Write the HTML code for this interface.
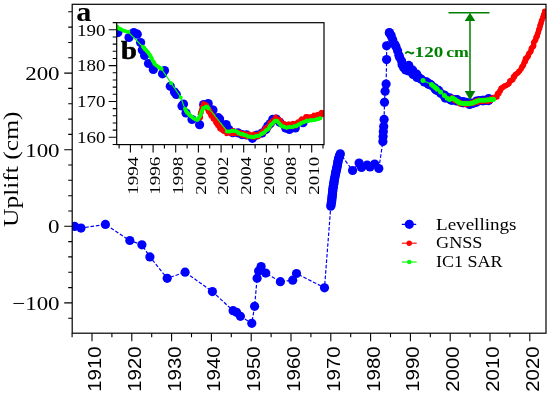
<!DOCTYPE html>
<html><head><meta charset="utf-8"><style>
html,body{margin:0;padding:0;background:#fff;}
body{width:550px;height:397px;overflow:hidden;font-family:"Liberation Serif",serif;}
svg{display:block;will-change:transform;}
</style></head><body>
<svg width="550" height="397" viewBox="0 0 550 397"><defs><clipPath id="cm"><rect x="72.2" y="4.3" width="473.8" height="328.9"/></clipPath><clipPath id="ci"><rect x="116.7" y="22.7" width="207.3" height="121.89999999999999"/></clipPath></defs><rect width="550" height="397" fill="#fff"/><g clip-path="url(#cm)"><polyline points="74.6,226.4 81.0,228.1 105.4,224.4 129.8,240.5 141.9,244.8 149.9,256.9 167.2,278.3 185.1,272.2 212.4,291.6 233.1,310.7 236.6,312.3 240.4,316.3 251.8,323.3 254.6,306.3 257.1,278.2 258.6,271.1 261.1,266.6 265.7,273.1 280.4,281.7 292.7,280.2 296.5,273.5 324.5,287.8 330.8,206.2 331.1,204.6 331.3,203.1 331.6,201.6 331.8,200.0 331.9,198.6 332.1,197.1 332.2,195.7 332.4,194.3 332.5,192.9 332.7,191.4 332.8,190.0 333.0,188.6 333.2,187.1 333.4,185.7 333.7,184.3 333.9,182.9 334.1,181.4 334.3,180.0 334.6,178.3 335.0,176.7 335.3,175.0 335.6,173.6 335.9,172.1 336.2,170.7 336.5,169.3 336.8,167.9 337.1,166.4 337.4,165.0 337.7,163.5 337.9,162.0 338.2,160.5 338.5,159.0 338.9,157.7 339.4,156.4 339.9,155.1 340.3,153.8 352.6,170.5 359.1,163.0 361.5,167.5 367.2,165.0 370.0,167.0 374.7,164.0 378.8,168.5 382.9,141.6 383.1,136.5 383.3,131.5 383.7,126.5 384.1,119.4 384.5,102.3 385.1,91.2 386.1,84.1 386.6,59.6 386.6,45.8 389.4,32.5 389.6,32.5 391.3,36.0 392.9,39.8 394.4,43.5 395.9,47.3 397.3,51.0 398.7,54.5 400.0,58.0 401.3,61.5 402.5,64.8 403.8,68.0 406.0,68.5 410.0,70.5 414.0,72.5 416.0,74.5 418.0,76.5 419.7,78.0 421.4,79.6 424.6,81.3 426.7,82.4 428.8,83.5 431.0,85.5 434.0,87.5 435.7,89.0 437.4,90.6 441.0,93.0 444.0,95.5 447.0,97.5 450.0,99.3 453.0,100.0 456.5,100.5 460.0,101.5 463.1,102.3 466.5,103.0 469.6,103.5 473.0,103.0 476.2,101.8 479.5,101.0 482.7,100.7 486.0,100.3 488.5,100.0" fill="none" stroke="#0000ff" stroke-width="1.2" stroke-dasharray="3.6 1.8"/><g fill="#0000ff"><circle cx="74.6" cy="226.4" r="4.6"/><circle cx="81.0" cy="228.1" r="4.6"/><circle cx="105.4" cy="224.4" r="4.6"/><circle cx="129.8" cy="240.5" r="4.6"/><circle cx="141.9" cy="244.8" r="4.6"/><circle cx="149.9" cy="256.9" r="4.6"/><circle cx="167.2" cy="278.3" r="4.6"/><circle cx="185.1" cy="272.2" r="4.6"/><circle cx="212.4" cy="291.6" r="4.6"/><circle cx="233.1" cy="310.7" r="4.6"/><circle cx="236.6" cy="312.3" r="4.6"/><circle cx="240.4" cy="316.3" r="4.6"/><circle cx="251.8" cy="323.3" r="4.6"/><circle cx="254.6" cy="306.3" r="4.6"/><circle cx="257.1" cy="278.2" r="4.6"/><circle cx="258.6" cy="271.1" r="4.6"/><circle cx="261.1" cy="266.6" r="4.6"/><circle cx="265.7" cy="273.1" r="4.6"/><circle cx="280.4" cy="281.7" r="4.6"/><circle cx="292.7" cy="280.2" r="4.6"/><circle cx="296.5" cy="273.5" r="4.6"/><circle cx="324.5" cy="287.8" r="4.6"/><circle cx="330.8" cy="206.2" r="4.6"/><circle cx="331.1" cy="204.6" r="4.6"/><circle cx="331.3" cy="203.1" r="4.6"/><circle cx="331.6" cy="201.6" r="4.6"/><circle cx="331.8" cy="200.0" r="4.6"/><circle cx="331.9" cy="198.6" r="4.6"/><circle cx="332.1" cy="197.1" r="4.6"/><circle cx="332.2" cy="195.7" r="4.6"/><circle cx="332.4" cy="194.3" r="4.6"/><circle cx="332.5" cy="192.9" r="4.6"/><circle cx="332.7" cy="191.4" r="4.6"/><circle cx="332.8" cy="190.0" r="4.6"/><circle cx="333.0" cy="188.6" r="4.6"/><circle cx="333.2" cy="187.1" r="4.6"/><circle cx="333.4" cy="185.7" r="4.6"/><circle cx="333.7" cy="184.3" r="4.6"/><circle cx="333.9" cy="182.9" r="4.6"/><circle cx="334.1" cy="181.4" r="4.6"/><circle cx="334.3" cy="180.0" r="4.6"/><circle cx="334.6" cy="178.3" r="4.6"/><circle cx="335.0" cy="176.7" r="4.6"/><circle cx="335.3" cy="175.0" r="4.6"/><circle cx="335.6" cy="173.6" r="4.6"/><circle cx="335.9" cy="172.1" r="4.6"/><circle cx="336.2" cy="170.7" r="4.6"/><circle cx="336.5" cy="169.3" r="4.6"/><circle cx="336.8" cy="167.9" r="4.6"/><circle cx="337.1" cy="166.4" r="4.6"/><circle cx="337.4" cy="165.0" r="4.6"/><circle cx="337.7" cy="163.5" r="4.6"/><circle cx="337.9" cy="162.0" r="4.6"/><circle cx="338.2" cy="160.5" r="4.6"/><circle cx="338.5" cy="159.0" r="4.6"/><circle cx="338.9" cy="157.7" r="4.6"/><circle cx="339.4" cy="156.4" r="4.6"/><circle cx="339.9" cy="155.1" r="4.6"/><circle cx="340.3" cy="153.8" r="4.6"/><circle cx="352.6" cy="170.5" r="4.6"/><circle cx="359.1" cy="163.0" r="4.6"/><circle cx="361.5" cy="167.5" r="4.6"/><circle cx="367.2" cy="165.0" r="4.6"/><circle cx="370.0" cy="167.0" r="4.6"/><circle cx="374.7" cy="164.0" r="4.6"/><circle cx="378.8" cy="168.5" r="4.6"/><circle cx="382.9" cy="141.6" r="4.6"/><circle cx="383.1" cy="136.5" r="4.6"/><circle cx="383.3" cy="131.5" r="4.6"/><circle cx="383.7" cy="126.5" r="4.6"/><circle cx="384.1" cy="119.4" r="4.6"/><circle cx="384.5" cy="102.3" r="4.6"/><circle cx="385.1" cy="91.2" r="4.6"/><circle cx="386.1" cy="84.1" r="4.6"/><circle cx="386.6" cy="59.6" r="4.6"/><circle cx="386.6" cy="45.8" r="4.6"/><circle cx="389.4" cy="32.5" r="4.6"/><circle cx="389.4" cy="33.1" r="4.6"/><circle cx="391.2" cy="35.4" r="4.6"/><circle cx="392.7" cy="39.8" r="4.6"/><circle cx="394.7" cy="44.3" r="4.6"/><circle cx="396.0" cy="46.8" r="4.6"/><circle cx="397.6" cy="50.7" r="4.6"/><circle cx="398.9" cy="55.2" r="4.6"/><circle cx="399.7" cy="57.5" r="4.6"/><circle cx="401.6" cy="61.1" r="4.6"/><circle cx="402.1" cy="64.7" r="4.6"/><circle cx="403.6" cy="67.5" r="4.6"/><circle cx="406.2" cy="69.3" r="4.6"/><circle cx="410.1" cy="70.9" r="4.6"/><circle cx="413.7" cy="73.1" r="4.6"/><circle cx="415.7" cy="74.9" r="4.6"/><circle cx="417.8" cy="76.7" r="4.6"/><circle cx="419.7" cy="78.2" r="4.6"/><circle cx="421.4" cy="79.3" r="4.6"/><circle cx="424.3" cy="82.0" r="4.6"/><circle cx="426.3" cy="81.9" r="4.6"/><circle cx="428.5" cy="84.3" r="4.6"/><circle cx="431.1" cy="85.2" r="4.6"/><circle cx="434.2" cy="87.6" r="4.6"/><circle cx="435.5" cy="89.5" r="4.6"/><circle cx="437.1" cy="90.4" r="4.6"/><circle cx="440.7" cy="93.3" r="4.6"/><circle cx="444.4" cy="95.1" r="4.6"/><circle cx="446.7" cy="97.2" r="4.6"/><circle cx="450.2" cy="99.5" r="4.6"/><circle cx="452.9" cy="99.7" r="4.6"/><circle cx="456.7" cy="99.7" r="4.6"/><circle cx="460.3" cy="101.7" r="4.6"/><circle cx="463.1" cy="101.5" r="4.6"/><circle cx="466.2" cy="102.4" r="4.6"/><circle cx="469.5" cy="103.4" r="4.6"/><circle cx="473.2" cy="103.3" r="4.6"/><circle cx="476.5" cy="101.1" r="4.6"/><circle cx="479.2" cy="100.5" r="4.6"/><circle cx="482.8" cy="100.8" r="4.6"/><circle cx="485.9" cy="100.3" r="4.6"/><circle cx="488.4" cy="100.6" r="4.6"/><circle cx="408.8" cy="65.4" r="4.6"/><circle cx="412.7" cy="70.2" r="4.6"/><circle cx="416.6" cy="74.0" r="4.6"/><circle cx="426.5" cy="82.2" r="4.6"/><circle cx="430.4" cy="84.4" r="4.6"/><circle cx="438.6" cy="90.4" r="4.6"/><circle cx="443.9" cy="95.6" r="4.6"/><circle cx="449.8" cy="97.8" r="4.6"/><circle cx="456.6" cy="101.0" r="4.6"/><circle cx="462.9" cy="102.7" r="4.6"/><circle cx="469.6" cy="104.4" r="4.6"/><circle cx="476.3" cy="101.9" r="4.6"/><circle cx="482.8" cy="100.3" r="4.6"/><circle cx="488.8" cy="100.1" r="4.6"/><circle cx="405.7" cy="70.0" r="4.6"/><circle cx="408.7" cy="70.9" r="4.6"/><circle cx="413.1" cy="74.4" r="4.6"/><circle cx="417.0" cy="77.5" r="4.6"/><circle cx="428.1" cy="83.2" r="4.6"/><circle cx="437.3" cy="90.0" r="4.6"/><circle cx="445.3" cy="98.1" r="4.6"/><circle cx="451.6" cy="100.3" r="4.6"/><circle cx="456.9" cy="99.6" r="4.6"/><circle cx="463.4" cy="102.7" r="4.6"/><circle cx="469.8" cy="102.8" r="4.6"/><circle cx="476.1" cy="102.2" r="4.6"/><circle cx="483.0" cy="100.4" r="4.6"/><circle cx="488.7" cy="98.5" r="4.6"/></g><polyline points="451.5,97.5 453.0,99.0 456.0,100.8 460.0,103.2 465.0,103.8 470.0,103.8 476.0,101.5 483.0,101.0 488.5,100.5 493.5,98.4 496.6,96.5 499.5,91.5 501.2,87.5 504.9,85.8 509.0,83.0 512.5,78.5 516.0,73.3 519.0,71.5 521.5,67.8 524.5,62.0 527.0,56.7 531.2,49.8 533.5,45.0 535.3,40.1 537.5,34.0 539.5,27.7 541.5,22.0 543.1,16.6 544.3,11.8" fill="none" stroke="#ff0000" stroke-width="1.2"/><g fill="#ff0000"><circle cx="491.9" cy="99.6" r="2.75"/><circle cx="493.2" cy="97.5" r="2.75"/><circle cx="494.7" cy="97.5" r="2.75"/><circle cx="496.9" cy="97.0" r="2.75"/><circle cx="497.1" cy="95.0" r="2.75"/><circle cx="497.8" cy="93.3" r="2.75"/><circle cx="498.9" cy="93.5" r="2.75"/><circle cx="499.9" cy="91.0" r="2.75"/><circle cx="500.2" cy="90.8" r="2.75"/><circle cx="501.1" cy="88.6" r="2.75"/><circle cx="501.5" cy="87.9" r="2.75"/><circle cx="502.5" cy="87.7" r="2.75"/><circle cx="504.0" cy="86.3" r="2.75"/><circle cx="504.9" cy="85.9" r="2.75"/><circle cx="506.1" cy="85.5" r="2.75"/><circle cx="507.8" cy="84.4" r="2.75"/><circle cx="509.0" cy="83.4" r="2.75"/><circle cx="509.8" cy="81.0" r="2.75"/><circle cx="510.3" cy="81.0" r="2.75"/><circle cx="512.0" cy="80.2" r="2.75"/><circle cx="512.9" cy="79.2" r="2.75"/><circle cx="513.5" cy="76.8" r="2.75"/><circle cx="514.5" cy="76.7" r="2.75"/><circle cx="515.2" cy="74.7" r="2.75"/><circle cx="516.2" cy="74.0" r="2.75"/><circle cx="517.8" cy="72.9" r="2.75"/><circle cx="518.8" cy="71.4" r="2.75"/><circle cx="519.5" cy="70.9" r="2.75"/><circle cx="521.1" cy="68.9" r="2.75"/><circle cx="521.9" cy="67.1" r="2.75"/><circle cx="522.4" cy="66.5" r="2.75"/><circle cx="523.4" cy="65.3" r="2.75"/><circle cx="523.8" cy="63.4" r="2.75"/><circle cx="524.7" cy="61.3" r="2.75"/><circle cx="525.3" cy="61.4" r="2.75"/><circle cx="525.5" cy="58.6" r="2.75"/><circle cx="526.6" cy="58.4" r="2.75"/><circle cx="527.3" cy="57.1" r="2.75"/><circle cx="528.2" cy="56.2" r="2.75"/><circle cx="528.5" cy="54.4" r="2.75"/><circle cx="529.1" cy="53.3" r="2.75"/><circle cx="530.7" cy="51.8" r="2.75"/><circle cx="531.2" cy="50.0" r="2.75"/><circle cx="531.4" cy="48.5" r="2.75"/><circle cx="532.1" cy="47.5" r="2.75"/><circle cx="533.3" cy="46.5" r="2.75"/><circle cx="533.7" cy="45.5" r="2.75"/><circle cx="533.7" cy="42.6" r="2.75"/><circle cx="534.6" cy="41.3" r="2.75"/><circle cx="535.6" cy="39.9" r="2.75"/><circle cx="536.1" cy="37.7" r="2.75"/><circle cx="536.3" cy="36.9" r="2.75"/><circle cx="537.2" cy="36.3" r="2.75"/><circle cx="537.4" cy="34.4" r="2.75"/><circle cx="537.9" cy="33.2" r="2.75"/><circle cx="538.5" cy="31.4" r="2.75"/><circle cx="538.8" cy="29.4" r="2.75"/><circle cx="539.6" cy="28.4" r="2.75"/><circle cx="540.2" cy="25.9" r="2.75"/><circle cx="540.1" cy="25.3" r="2.75"/><circle cx="540.8" cy="24.1" r="2.75"/><circle cx="541.2" cy="22.4" r="2.75"/><circle cx="541.5" cy="20.7" r="2.75"/><circle cx="542.0" cy="19.9" r="2.75"/><circle cx="542.9" cy="17.6" r="2.75"/><circle cx="543.4" cy="16.5" r="2.75"/><circle cx="543.7" cy="14.7" r="2.75"/><circle cx="544.3" cy="13.8" r="2.75"/><circle cx="544.7" cy="11.2" r="2.75"/><circle cx="451.9" cy="97.3" r="2.4"/><circle cx="453.3" cy="98.7" r="2.4"/><circle cx="454.1" cy="99.7" r="2.4"/><circle cx="455.6" cy="100.2" r="2.4"/><circle cx="457.6" cy="101.7" r="2.4"/><circle cx="458.3" cy="102.4" r="2.4"/><circle cx="459.8" cy="101.9" r="2.4"/><circle cx="461.4" cy="102.8" r="2.4"/><circle cx="463.5" cy="103.6" r="2.4"/><circle cx="464.9" cy="102.9" r="2.4"/><circle cx="466.9" cy="103.7" r="2.4"/><circle cx="468.6" cy="102.8" r="2.4"/><circle cx="470.2" cy="103.3" r="2.4"/><circle cx="471.8" cy="102.5" r="2.4"/><circle cx="473.0" cy="102.7" r="2.4"/><circle cx="474.8" cy="101.4" r="2.4"/><circle cx="475.9" cy="100.6" r="2.4"/><circle cx="477.7" cy="100.2" r="2.4"/><circle cx="478.9" cy="100.0" r="2.4"/><circle cx="480.6" cy="100.6" r="2.4"/><circle cx="481.7" cy="100.5" r="2.4"/><circle cx="483.3" cy="100.4" r="2.4"/><circle cx="484.1" cy="100.0" r="2.4"/><circle cx="485.5" cy="100.6" r="2.4"/><circle cx="487.2" cy="100.1" r="2.4"/><circle cx="488.2" cy="99.4" r="2.4"/><circle cx="490.1" cy="99.5" r="2.4"/><circle cx="491.2" cy="98.5" r="2.4"/><circle cx="451.8" cy="97.8" r="2.4"/><circle cx="452.8" cy="98.9" r="2.4"/><circle cx="454.4" cy="100.8" r="2.4"/><circle cx="456.1" cy="101.3" r="2.4"/><circle cx="457.4" cy="101.8" r="2.4"/><circle cx="458.6" cy="102.9" r="2.4"/><circle cx="459.7" cy="104.3" r="2.4"/><circle cx="461.5" cy="104.1" r="2.4"/><circle cx="463.7" cy="103.7" r="2.4"/><circle cx="465.4" cy="105.0" r="2.4"/><circle cx="466.4" cy="104.6" r="2.4"/><circle cx="468.7" cy="104.3" r="2.4"/><circle cx="469.8" cy="104.0" r="2.4"/><circle cx="471.3" cy="103.3" r="2.4"/><circle cx="473.2" cy="103.9" r="2.4"/><circle cx="474.3" cy="101.9" r="2.4"/><circle cx="476.4" cy="102.6" r="2.4"/><circle cx="477.7" cy="101.6" r="2.4"/><circle cx="478.6" cy="102.4" r="2.4"/><circle cx="480.1" cy="101.4" r="2.4"/><circle cx="482.0" cy="101.1" r="2.4"/><circle cx="483.0" cy="101.9" r="2.4"/><circle cx="484.1" cy="101.3" r="2.4"/><circle cx="486.0" cy="100.8" r="2.4"/><circle cx="487.3" cy="101.9" r="2.4"/><circle cx="488.6" cy="101.2" r="2.4"/><circle cx="490.1" cy="101.2" r="2.4"/><circle cx="491.0" cy="100.1" r="2.4"/></g><polyline points="423.2,80.7 429.2,83.2 431.9,84.8 436.0,88.3 440.2,91.7 444.3,95.2 448.5,99.1 452.2,98.0 455.0,99.5 459.8,103.0 464.0,103.6 469.6,103.6 473.0,102.8 477.3,101.0 480.0,100.2 484.9,100.2 489.0,99.8 492.5,99.4 493.5,99.2" fill="none" stroke="#00ff00" stroke-width="1.2"/><g fill="#00ff00"><circle cx="423.0" cy="80.6" r="2.5"/><circle cx="431.5" cy="84.5" r="2.5"/><circle cx="433.5" cy="86.2" r="2.5"/><circle cx="435.5" cy="87.8" r="2.5"/><circle cx="437.2" cy="89.2" r="2.5"/><circle cx="440.6" cy="92.0" r="2.5"/><circle cx="444.4" cy="95.4" r="2.5"/><circle cx="447.3" cy="98.3" r="2.5"/><circle cx="449.6" cy="99.4" r="2.5"/><circle cx="452.2" cy="98.0" r="2.5"/><circle cx="453.6" cy="98.8" r="2.5"/><circle cx="455.0" cy="99.5" r="2.5"/><circle cx="456.6" cy="100.7" r="2.5"/><circle cx="458.2" cy="101.8" r="2.5"/><circle cx="459.8" cy="103.0" r="2.5"/><circle cx="461.9" cy="103.3" r="2.5"/><circle cx="464.0" cy="103.6" r="2.5"/><circle cx="465.9" cy="103.6" r="2.5"/><circle cx="467.7" cy="103.6" r="2.5"/><circle cx="469.6" cy="103.6" r="2.5"/><circle cx="471.3" cy="103.2" r="2.5"/><circle cx="473.0" cy="102.8" r="2.5"/><circle cx="475.1" cy="101.9" r="2.5"/><circle cx="477.3" cy="101.0" r="2.5"/><circle cx="480.0" cy="100.2" r="2.5"/><circle cx="482.4" cy="100.2" r="2.5"/><circle cx="484.9" cy="100.2" r="2.5"/><circle cx="486.9" cy="100.0" r="2.5"/><circle cx="489.0" cy="99.8" r="2.5"/><circle cx="490.8" cy="99.6" r="2.5"/><circle cx="492.5" cy="99.4" r="2.5"/><circle cx="493.5" cy="99.2" r="2.5"/></g></g><rect x="72.2" y="4.3" width="473.8" height="328.9" fill="none" stroke="#000" stroke-width="1.2"/><path d="M68.2,318.2H72.2M64.2,302.9H72.2M68.2,287.6H72.2M68.2,272.3H72.2M68.2,256.9H72.2M68.2,241.6H72.2M64.2,226.3H72.2M68.2,211.0H72.2M68.2,195.7H72.2M68.2,180.3H72.2M68.2,165.0H72.2M64.2,149.7H72.2M68.2,134.4H72.2M68.2,119.1H72.2M68.2,103.7H72.2M68.2,88.4H72.2M64.2,73.1H72.2M68.2,57.8H72.2M68.2,42.5H72.2M68.2,27.1H72.2M68.2,11.8H72.2M72.1,333.2V337.2M92.0,333.2V341.2M111.9,333.2V337.2M131.8,333.2V341.2M151.7,333.2V337.2M171.6,333.2V341.2M191.5,333.2V337.2M211.4,333.2V341.2M231.3,333.2V337.2M251.2,333.2V341.2M271.1,333.2V337.2M291.0,333.2V341.2M310.9,333.2V337.2M330.8,333.2V341.2M350.7,333.2V337.2M370.6,333.2V341.2M390.5,333.2V337.2M410.4,333.2V341.2M430.3,333.2V337.2M450.2,333.2V341.2M470.1,333.2V337.2M490.0,333.2V341.2M509.9,333.2V337.2M529.8,333.2V341.2" stroke="#000" stroke-width="1.1" fill="none"/><text transform="translate(59.6,80.1) scale(1.16,1)" text-anchor="end" font-family="Liberation Serif" font-size="19.8">200</text><text transform="translate(59.6,156.7) scale(1.16,1)" text-anchor="end" font-family="Liberation Serif" font-size="19.8">100</text><text transform="translate(59.6,233.3) scale(1.16,1)" text-anchor="end" font-family="Liberation Serif" font-size="19.8">0</text><text transform="translate(59.6,309.9) scale(1.16,1)" text-anchor="end" font-family="Liberation Serif" font-size="19.8">−100</text><text transform="translate(101.0,391.8) rotate(-90)" font-family="Liberation Sans" font-size="19" textLength="45.5" lengthAdjust="spacingAndGlyphs">1910</text><text transform="translate(140.8,391.8) rotate(-90)" font-family="Liberation Sans" font-size="19" textLength="45.5" lengthAdjust="spacingAndGlyphs">1920</text><text transform="translate(180.6,391.8) rotate(-90)" font-family="Liberation Sans" font-size="19" textLength="45.5" lengthAdjust="spacingAndGlyphs">1930</text><text transform="translate(220.4,391.8) rotate(-90)" font-family="Liberation Sans" font-size="19" textLength="45.5" lengthAdjust="spacingAndGlyphs">1940</text><text transform="translate(260.2,391.8) rotate(-90)" font-family="Liberation Sans" font-size="19" textLength="45.5" lengthAdjust="spacingAndGlyphs">1950</text><text transform="translate(300.0,391.8) rotate(-90)" font-family="Liberation Sans" font-size="19" textLength="45.5" lengthAdjust="spacingAndGlyphs">1960</text><text transform="translate(339.8,391.8) rotate(-90)" font-family="Liberation Sans" font-size="19" textLength="45.5" lengthAdjust="spacingAndGlyphs">1970</text><text transform="translate(379.6,391.8) rotate(-90)" font-family="Liberation Sans" font-size="19" textLength="45.5" lengthAdjust="spacingAndGlyphs">1980</text><text transform="translate(419.4,391.8) rotate(-90)" font-family="Liberation Sans" font-size="19" textLength="45.5" lengthAdjust="spacingAndGlyphs">1990</text><text transform="translate(459.2,391.8) rotate(-90)" font-family="Liberation Sans" font-size="19" textLength="45.5" lengthAdjust="spacingAndGlyphs">2000</text><text transform="translate(499.0,391.8) rotate(-90)" font-family="Liberation Sans" font-size="19" textLength="45.5" lengthAdjust="spacingAndGlyphs">2010</text><text transform="translate(538.8,391.8) rotate(-90)" font-family="Liberation Sans" font-size="19" textLength="45.5" lengthAdjust="spacingAndGlyphs">2020</text><text transform="translate(17.6,227) rotate(-90)" font-family="Liberation Serif" font-size="20.5" textLength="115.5" lengthAdjust="spacingAndGlyphs">Uplift (cm)</text><text transform="translate(76.2,20.6) scale(1.12,1)" font-family="Liberation Serif" font-weight="bold" font-size="27">a</text><g stroke="#008000" stroke-width="1.5" fill="none"><path d="M448.5,12.8H489.5M470,14V91"/></g><path d="M470,12.8L464.7,21L475.3,21Z" fill="#008000"/><path d="M470,100.2L464.7,91L475.3,91Z" fill="#008000"/><path d="M405.3,53.6C406.7,51.6 408.2,51.5 409.5,52.6S412.4,54.1 413.8,51.9" fill="none" stroke="#008000" stroke-width="1.9"/><text x="414.6" y="57.3" font-family="Liberation Serif" font-weight="bold" font-size="15.5" fill="#008000" textLength="28.6" lengthAdjust="spacingAndGlyphs">120</text><text x="446.2" y="57.3" font-family="Liberation Serif" font-weight="bold" font-size="15.5" fill="#008000" textLength="22.7" lengthAdjust="spacingAndGlyphs">cm</text><path d="M401.8,224.4H416.7" stroke="#0000ff" stroke-width="1.2" stroke-dasharray="3.6 1.8"/><circle cx="409.3" cy="224.3" r="4.6" fill="#0000ff"/><path d="M401.8,243.2H416.7" stroke="#ff0000" stroke-width="1.1"/><circle cx="409.2" cy="243.2" r="2.7" fill="#ff0000"/><path d="M401.8,262H416.7" stroke="#00ff00" stroke-width="1.1"/><circle cx="409.2" cy="262" r="2.2" fill="#00ff00"/><text x="436.0" y="229.7" font-family="Liberation Serif" font-size="16.3" textLength="80.5" lengthAdjust="spacingAndGlyphs">Levellings</text><text x="436.0" y="248.3" font-family="Liberation Serif" font-size="16.3" textLength="46.5" lengthAdjust="spacingAndGlyphs">GNSS</text><text x="436.0" y="266.8" font-family="Liberation Serif" font-size="16.3" textLength="66.5" lengthAdjust="spacingAndGlyphs">IC1 SAR</text><rect x="116.7" y="22.7" width="207.3" height="121.89999999999999" fill="#fff"/><g clip-path="url(#ci)"><g fill="#0000ff"><circle cx="117.9" cy="32.6" r="4.6"/><circle cx="129.0" cy="37.5" r="4.6"/><circle cx="133.8" cy="32.6" r="4.6"/><circle cx="137.3" cy="34.2" r="4.6"/><circle cx="140.6" cy="42.6" r="4.6"/><circle cx="142.3" cy="50.0" r="4.6"/><circle cx="144.6" cy="55.5" r="4.6"/><circle cx="148.5" cy="63.5" r="4.6"/><circle cx="153.3" cy="69.5" r="4.6"/><circle cx="162.5" cy="73.8" r="4.6"/><circle cx="164.5" cy="70.5" r="4.6"/><circle cx="170.3" cy="86.3" r="4.6"/><circle cx="174.5" cy="92.0" r="4.6"/><circle cx="176.3" cy="94.5" r="4.6"/><circle cx="183.5" cy="104.0" r="4.6"/><circle cx="182.0" cy="106.0" r="4.6"/><circle cx="186.0" cy="113.0" r="4.6"/><circle cx="192.0" cy="119.5" r="4.6"/><circle cx="199.6" cy="124.7" r="4.6"/><circle cx="203.7" cy="104.6" r="4.6"/><circle cx="208.2" cy="103.6" r="4.6"/><circle cx="212.2" cy="110.1" r="4.6"/><circle cx="213.0" cy="110.0" r="4.6"/><circle cx="218.3" cy="117.7" r="4.6"/><circle cx="219.6" cy="119.1" r="4.6"/><circle cx="226.1" cy="124.6" r="4.6"/><circle cx="228.8" cy="129.4" r="4.6"/><circle cx="232.8" cy="132.7" r="4.6"/><circle cx="237.9" cy="132.8" r="4.6"/><circle cx="242.0" cy="134.6" r="4.6"/><circle cx="246.6" cy="134.9" r="4.6"/><circle cx="252.4" cy="138.3" r="4.6"/><circle cx="256.8" cy="135.1" r="4.6"/><circle cx="262.0" cy="133.1" r="4.6"/><circle cx="265.9" cy="129.5" r="4.6"/><circle cx="267.8" cy="126.0" r="4.6"/><circle cx="270.3" cy="123.6" r="4.6"/><circle cx="272.8" cy="119.3" r="4.6"/><circle cx="276.3" cy="119.0" r="4.6"/><circle cx="279.8" cy="122.3" r="4.6"/><circle cx="285.7" cy="128.1" r="4.6"/><circle cx="289.4" cy="129.4" r="4.6"/><circle cx="295.3" cy="127.9" r="4.6"/><circle cx="303.0" cy="122.7" r="4.6"/></g><polyline points="200.5,116.0 202.0,108.0 204.0,105.0 206.5,106.0 208.5,110.0 212.0,116.0 216.0,122.0 220.0,127.5 224.0,131.0 228.0,132.5 232.0,132.0 237.0,132.3 242.0,134.0 247.0,135.5 252.0,136.3 258.0,134.8 263.0,132.0 268.0,127.0 272.0,122.0 275.5,119.0 278.5,120.0 282.0,124.0 286.0,125.5 291.0,125.0 296.0,124.0 301.0,120.5 306.0,118.0 311.0,117.5 316.0,116.0 320.3,114.5 325.0,113.0" fill="none" stroke="#ff0000" stroke-width="1.2"/><g fill="#ff0000"><circle cx="200.1" cy="114.3" r="2.4"/><circle cx="200.4" cy="112.8" r="2.4"/><circle cx="201.5" cy="111.0" r="2.4"/><circle cx="201.4" cy="109.9" r="2.4"/><circle cx="202.0" cy="108.3" r="2.4"/><circle cx="201.9" cy="106.8" r="2.4"/><circle cx="203.3" cy="106.3" r="2.4"/><circle cx="203.5" cy="103.4" r="2.4"/><circle cx="205.6" cy="104.5" r="2.4"/><circle cx="207.0" cy="105.4" r="2.4"/><circle cx="206.8" cy="105.9" r="2.4"/><circle cx="208.3" cy="108.2" r="2.4"/><circle cx="208.1" cy="109.2" r="2.4"/><circle cx="209.2" cy="109.3" r="2.4"/><circle cx="210.3" cy="110.8" r="2.4"/><circle cx="210.7" cy="112.9" r="2.4"/><circle cx="211.5" cy="113.4" r="2.4"/><circle cx="212.4" cy="115.5" r="2.4"/><circle cx="213.0" cy="115.2" r="2.4"/><circle cx="214.1" cy="118.2" r="2.4"/><circle cx="214.1" cy="118.2" r="2.4"/><circle cx="215.4" cy="119.2" r="2.4"/><circle cx="215.6" cy="121.5" r="2.4"/><circle cx="216.3" cy="121.8" r="2.4"/><circle cx="217.7" cy="123.3" r="2.4"/><circle cx="218.7" cy="125.3" r="2.4"/><circle cx="219.5" cy="124.9" r="2.4"/><circle cx="219.6" cy="126.9" r="2.4"/><circle cx="220.8" cy="127.0" r="2.4"/><circle cx="221.8" cy="128.7" r="2.4"/><circle cx="222.5" cy="129.5" r="2.4"/><circle cx="223.7" cy="129.5" r="2.4"/><circle cx="225.3" cy="131.6" r="2.4"/><circle cx="226.6" cy="132.1" r="2.4"/><circle cx="228.0" cy="132.6" r="2.4"/><circle cx="229.6" cy="132.4" r="2.4"/><circle cx="230.4" cy="132.1" r="2.4"/><circle cx="232.5" cy="130.6" r="2.4"/><circle cx="233.2" cy="130.3" r="2.4"/><circle cx="235.3" cy="131.7" r="2.4"/><circle cx="236.9" cy="131.9" r="2.4"/><circle cx="238.3" cy="132.6" r="2.4"/><circle cx="239.7" cy="132.1" r="2.4"/><circle cx="240.3" cy="132.8" r="2.4"/><circle cx="241.8" cy="133.1" r="2.4"/><circle cx="243.3" cy="133.4" r="2.4"/><circle cx="244.8" cy="133.5" r="2.4"/><circle cx="246.5" cy="135.5" r="2.4"/><circle cx="248.7" cy="133.7" r="2.4"/><circle cx="250.2" cy="135.2" r="2.4"/><circle cx="252.3" cy="134.5" r="2.4"/><circle cx="253.8" cy="134.0" r="2.4"/><circle cx="255.3" cy="135.4" r="2.4"/><circle cx="256.0" cy="134.8" r="2.4"/><circle cx="258.3" cy="134.2" r="2.4"/><circle cx="259.7" cy="133.7" r="2.4"/><circle cx="260.0" cy="133.4" r="2.4"/><circle cx="262.0" cy="131.5" r="2.4"/><circle cx="263.2" cy="132.0" r="2.4"/><circle cx="264.2" cy="130.2" r="2.4"/><circle cx="264.9" cy="128.5" r="2.4"/><circle cx="265.8" cy="127.8" r="2.4"/><circle cx="266.7" cy="127.1" r="2.4"/><circle cx="268.3" cy="126.9" r="2.4"/><circle cx="268.5" cy="125.6" r="2.4"/><circle cx="269.7" cy="122.6" r="2.4"/><circle cx="271.5" cy="121.8" r="2.4"/><circle cx="271.9" cy="121.8" r="2.4"/><circle cx="272.8" cy="120.3" r="2.4"/><circle cx="274.9" cy="118.2" r="2.4"/><circle cx="275.6" cy="117.0" r="2.4"/><circle cx="277.4" cy="119.3" r="2.4"/><circle cx="278.5" cy="119.0" r="2.4"/><circle cx="279.0" cy="119.5" r="2.4"/><circle cx="280.6" cy="120.5" r="2.4"/><circle cx="280.9" cy="122.0" r="2.4"/><circle cx="281.7" cy="123.2" r="2.4"/><circle cx="282.8" cy="124.0" r="2.4"/><circle cx="284.3" cy="123.4" r="2.4"/><circle cx="285.5" cy="124.1" r="2.4"/><circle cx="287.7" cy="124.5" r="2.4"/><circle cx="288.8" cy="123.6" r="2.4"/><circle cx="291.1" cy="124.8" r="2.4"/><circle cx="292.9" cy="123.1" r="2.4"/><circle cx="294.3" cy="123.4" r="2.4"/><circle cx="296.5" cy="123.4" r="2.4"/><circle cx="297.0" cy="122.6" r="2.4"/><circle cx="298.0" cy="121.6" r="2.4"/><circle cx="300.3" cy="120.5" r="2.4"/><circle cx="301.5" cy="118.7" r="2.4"/><circle cx="302.8" cy="119.6" r="2.4"/><circle cx="304.0" cy="119.3" r="2.4"/><circle cx="305.2" cy="117.3" r="2.4"/><circle cx="305.9" cy="116.5" r="2.4"/><circle cx="307.2" cy="116.3" r="2.4"/><circle cx="308.9" cy="116.8" r="2.4"/><circle cx="311.1" cy="116.4" r="2.4"/><circle cx="312.7" cy="116.8" r="2.4"/><circle cx="313.9" cy="114.9" r="2.4"/><circle cx="316.5" cy="114.9" r="2.4"/><circle cx="317.6" cy="114.3" r="2.4"/><circle cx="318.3" cy="114.7" r="2.4"/><circle cx="320.4" cy="113.2" r="2.4"/><circle cx="321.5" cy="112.1" r="2.4"/><circle cx="323.7" cy="113.2" r="2.4"/><circle cx="325.2" cy="111.9" r="2.4"/><circle cx="200.6" cy="118.0" r="2.4"/><circle cx="200.6" cy="116.5" r="2.4"/><circle cx="201.4" cy="112.8" r="2.4"/><circle cx="200.9" cy="111.6" r="2.4"/><circle cx="201.3" cy="110.8" r="2.4"/><circle cx="202.3" cy="108.4" r="2.4"/><circle cx="202.6" cy="106.9" r="2.4"/><circle cx="204.1" cy="105.4" r="2.4"/><circle cx="205.8" cy="105.8" r="2.4"/><circle cx="207.0" cy="107.1" r="2.4"/><circle cx="207.3" cy="109.1" r="2.4"/><circle cx="207.7" cy="110.0" r="2.4"/><circle cx="208.2" cy="111.8" r="2.4"/><circle cx="209.7" cy="113.1" r="2.4"/><circle cx="210.1" cy="112.6" r="2.4"/><circle cx="210.1" cy="114.4" r="2.4"/><circle cx="211.0" cy="116.4" r="2.4"/><circle cx="212.4" cy="116.1" r="2.4"/><circle cx="213.2" cy="119.2" r="2.4"/><circle cx="213.3" cy="119.2" r="2.4"/><circle cx="214.6" cy="119.9" r="2.4"/><circle cx="215.5" cy="122.5" r="2.4"/><circle cx="216.2" cy="123.5" r="2.4"/><circle cx="216.9" cy="123.5" r="2.4"/><circle cx="217.5" cy="125.7" r="2.4"/><circle cx="218.4" cy="125.8" r="2.4"/><circle cx="219.5" cy="127.6" r="2.4"/><circle cx="219.5" cy="128.8" r="2.4"/><circle cx="220.6" cy="129.5" r="2.4"/><circle cx="222.5" cy="130.2" r="2.4"/><circle cx="222.7" cy="131.0" r="2.4"/><circle cx="224.1" cy="131.7" r="2.4"/><circle cx="225.5" cy="131.4" r="2.4"/><circle cx="226.6" cy="133.9" r="2.4"/><circle cx="228.4" cy="133.1" r="2.4"/><circle cx="228.9" cy="133.2" r="2.4"/><circle cx="231.0" cy="133.5" r="2.4"/><circle cx="232.3" cy="134.0" r="2.4"/><circle cx="234.1" cy="132.5" r="2.4"/><circle cx="235.1" cy="133.9" r="2.4"/><circle cx="237.2" cy="132.3" r="2.4"/><circle cx="238.5" cy="134.0" r="2.4"/><circle cx="239.2" cy="133.9" r="2.4"/><circle cx="240.7" cy="133.8" r="2.4"/><circle cx="242.1" cy="135.7" r="2.4"/><circle cx="244.0" cy="135.4" r="2.4"/><circle cx="245.6" cy="135.8" r="2.4"/><circle cx="246.9" cy="137.0" r="2.4"/><circle cx="248.7" cy="135.7" r="2.4"/><circle cx="250.6" cy="136.8" r="2.4"/><circle cx="252.3" cy="136.9" r="2.4"/><circle cx="253.7" cy="137.4" r="2.4"/><circle cx="255.2" cy="137.2" r="2.4"/><circle cx="256.1" cy="136.9" r="2.4"/><circle cx="258.5" cy="136.8" r="2.4"/><circle cx="259.2" cy="135.5" r="2.4"/><circle cx="260.1" cy="134.1" r="2.4"/><circle cx="261.3" cy="132.8" r="2.4"/><circle cx="262.7" cy="133.4" r="2.4"/><circle cx="264.1" cy="132.5" r="2.4"/><circle cx="265.0" cy="131.4" r="2.4"/><circle cx="266.2" cy="129.2" r="2.4"/><circle cx="267.3" cy="128.1" r="2.4"/><circle cx="268.3" cy="128.9" r="2.4"/><circle cx="268.8" cy="126.3" r="2.4"/><circle cx="270.2" cy="125.8" r="2.4"/><circle cx="271.3" cy="123.9" r="2.4"/><circle cx="272.4" cy="122.3" r="2.4"/><circle cx="272.7" cy="122.5" r="2.4"/><circle cx="274.8" cy="120.6" r="2.4"/><circle cx="275.9" cy="121.1" r="2.4"/><circle cx="276.9" cy="120.6" r="2.4"/><circle cx="278.7" cy="120.1" r="2.4"/><circle cx="279.4" cy="122.4" r="2.4"/><circle cx="280.7" cy="123.0" r="2.4"/><circle cx="281.4" cy="123.2" r="2.4"/><circle cx="281.7" cy="125.1" r="2.4"/><circle cx="283.1" cy="124.5" r="2.4"/><circle cx="284.8" cy="126.4" r="2.4"/><circle cx="285.7" cy="126.7" r="2.4"/><circle cx="287.2" cy="127.4" r="2.4"/><circle cx="289.5" cy="126.0" r="2.4"/><circle cx="290.5" cy="126.8" r="2.4"/><circle cx="292.6" cy="126.1" r="2.4"/><circle cx="294.7" cy="126.3" r="2.4"/><circle cx="296.5" cy="124.0" r="2.4"/><circle cx="297.3" cy="123.9" r="2.4"/><circle cx="298.6" cy="123.9" r="2.4"/><circle cx="299.6" cy="121.6" r="2.4"/><circle cx="300.8" cy="120.7" r="2.4"/><circle cx="302.4" cy="121.7" r="2.4"/><circle cx="303.3" cy="120.0" r="2.4"/><circle cx="304.2" cy="120.2" r="2.4"/><circle cx="305.7" cy="119.9" r="2.4"/><circle cx="308.0" cy="119.9" r="2.4"/><circle cx="309.1" cy="118.1" r="2.4"/><circle cx="311.4" cy="117.8" r="2.4"/><circle cx="312.5" cy="117.7" r="2.4"/><circle cx="314.5" cy="118.0" r="2.4"/><circle cx="315.9" cy="117.9" r="2.4"/><circle cx="317.0" cy="115.5" r="2.4"/><circle cx="319.1" cy="116.0" r="2.4"/><circle cx="320.1" cy="116.4" r="2.4"/><circle cx="322.1" cy="114.9" r="2.4"/><circle cx="323.7" cy="113.7" r="2.4"/><circle cx="324.7" cy="113.8" r="2.4"/></g><polyline points="117.0,27.0 119.0,28.3 121.0,29.5 123.0,30.5 125.0,31.2 127.0,31.6 128.1,31.8 143.0,47.0 146.0,50.1 149.1,54.1 152.1,59.1 155.1,64.2 159.1,67.2 161.7,69.2 171.1,83.1 180.7,97.2 184.8,108.5 186.0,111.1 189.0,114.5 192.0,117.5 195.0,119.5 197.1,120.2 200.2,115.2 203.2,108.1 206.2,106.6 208.7,108.1 227.1,131.2 230.0,131.5 233.0,131.0 236.7,131.6 240.1,133.4 245.1,135.3 248.0,136.7 252.0,137.2 258.1,135.7 263.1,133.2 268.2,128.7 272.2,123.6 275.7,120.1 278.7,122.6 282.3,126.7 285.0,127.2 288.0,127.7 291.0,126.7 296.1,126.2 300.1,123.4 305.2,121.0 310.2,120.3 315.2,119.8 319.3,118.8 320.3,118.5" fill="none" stroke="#00ff00" stroke-width="1.1"/><g fill="#00ff00"><circle cx="117.1" cy="26.6" r="2.0"/><circle cx="117.8" cy="28.0" r="2.0"/><circle cx="118.9" cy="28.4" r="2.0"/><circle cx="120.1" cy="29.0" r="2.0"/><circle cx="121.2" cy="29.4" r="2.0"/><circle cx="123.2" cy="30.6" r="2.0"/><circle cx="125.0" cy="31.0" r="2.0"/><circle cx="127.1" cy="31.7" r="2.0"/><circle cx="128.3" cy="31.7" r="2.0"/><circle cx="143.0" cy="46.7" r="2.0"/><circle cx="144.0" cy="47.7" r="2.0"/><circle cx="144.9" cy="49.3" r="2.0"/><circle cx="146.2" cy="50.3" r="2.0"/><circle cx="147.1" cy="51.6" r="2.0"/><circle cx="148.2" cy="52.4" r="2.0"/><circle cx="149.3" cy="54.2" r="2.0"/><circle cx="149.8" cy="55.0" r="2.0"/><circle cx="150.7" cy="56.4" r="2.0"/><circle cx="151.5" cy="58.3" r="2.0"/><circle cx="152.1" cy="59.0" r="2.0"/><circle cx="152.7" cy="60.7" r="2.0"/><circle cx="153.7" cy="62.1" r="2.0"/><circle cx="154.1" cy="62.8" r="2.0"/><circle cx="154.9" cy="64.3" r="2.0"/><circle cx="156.3" cy="65.5" r="2.0"/><circle cx="158.0" cy="66.5" r="2.0"/><circle cx="159.0" cy="67.5" r="2.0"/><circle cx="160.4" cy="68.2" r="2.0"/><circle cx="161.6" cy="68.7" r="2.0"/><circle cx="171.2" cy="83.3" r="2.0"/><circle cx="180.7" cy="97.6" r="2.0"/><circle cx="185.0" cy="108.8" r="2.0"/><circle cx="185.6" cy="109.6" r="2.0"/><circle cx="186.1" cy="111.2" r="2.0"/><circle cx="187.1" cy="112.7" r="2.0"/><circle cx="187.9" cy="112.9" r="2.0"/><circle cx="189.0" cy="114.8" r="2.0"/><circle cx="190.2" cy="115.6" r="2.0"/><circle cx="191.0" cy="116.3" r="2.0"/><circle cx="191.9" cy="117.0" r="2.0"/><circle cx="193.5" cy="118.3" r="2.0"/><circle cx="195.2" cy="119.2" r="2.0"/><circle cx="197.3" cy="120.0" r="2.0"/><circle cx="198.1" cy="119.2" r="2.0"/><circle cx="198.8" cy="117.8" r="2.0"/><circle cx="199.6" cy="116.5" r="2.0"/><circle cx="200.4" cy="115.3" r="2.0"/><circle cx="200.7" cy="114.0" r="2.0"/><circle cx="201.5" cy="112.1" r="2.0"/><circle cx="201.8" cy="111.1" r="2.0"/><circle cx="202.7" cy="109.8" r="2.0"/><circle cx="203.1" cy="107.9" r="2.0"/><circle cx="204.7" cy="107.8" r="2.0"/><circle cx="206.1" cy="106.5" r="2.0"/><circle cx="207.6" cy="107.1" r="2.0"/><circle cx="208.5" cy="108.5" r="2.0"/><circle cx="226.9" cy="131.4" r="2.0"/><circle cx="228.6" cy="131.5" r="2.0"/><circle cx="229.8" cy="131.4" r="2.0"/><circle cx="231.7" cy="130.9" r="2.0"/><circle cx="233.2" cy="130.7" r="2.0"/><circle cx="234.9" cy="130.9" r="2.0"/><circle cx="236.8" cy="131.4" r="2.0"/><circle cx="238.1" cy="132.7" r="2.0"/><circle cx="239.1" cy="133.2" r="2.0"/><circle cx="239.9" cy="133.8" r="2.0"/><circle cx="241.2" cy="134.2" r="2.0"/><circle cx="242.6" cy="134.1" r="2.0"/><circle cx="244.1" cy="134.9" r="2.0"/><circle cx="244.9" cy="135.1" r="2.0"/><circle cx="246.7" cy="135.6" r="2.0"/><circle cx="247.9" cy="136.5" r="2.0"/><circle cx="249.2" cy="136.8" r="2.0"/><circle cx="250.7" cy="136.6" r="2.0"/><circle cx="252.0" cy="137.3" r="2.0"/><circle cx="253.8" cy="136.9" r="2.0"/><circle cx="254.9" cy="136.6" r="2.0"/><circle cx="256.5" cy="136.0" r="2.0"/><circle cx="258.0" cy="136.0" r="2.0"/><circle cx="259.2" cy="135.5" r="2.0"/><circle cx="260.8" cy="134.3" r="2.0"/><circle cx="261.8" cy="134.0" r="2.0"/><circle cx="263.0" cy="133.0" r="2.0"/><circle cx="264.3" cy="132.5" r="2.0"/><circle cx="265.4" cy="131.1" r="2.0"/><circle cx="266.4" cy="130.2" r="2.0"/><circle cx="267.1" cy="130.0" r="2.0"/><circle cx="268.4" cy="129.1" r="2.0"/><circle cx="269.0" cy="127.5" r="2.0"/><circle cx="270.0" cy="126.0" r="2.0"/><circle cx="271.0" cy="124.4" r="2.0"/><circle cx="272.2" cy="123.9" r="2.0"/><circle cx="273.4" cy="122.5" r="2.0"/><circle cx="274.6" cy="121.1" r="2.0"/><circle cx="275.5" cy="120.4" r="2.0"/><circle cx="276.8" cy="120.8" r="2.0"/><circle cx="277.6" cy="121.3" r="2.0"/><circle cx="278.5" cy="122.7" r="2.0"/><circle cx="279.6" cy="123.7" r="2.0"/><circle cx="280.6" cy="124.7" r="2.0"/><circle cx="281.2" cy="126.0" r="2.0"/><circle cx="282.5" cy="126.4" r="2.0"/><circle cx="283.8" cy="126.6" r="2.0"/><circle cx="284.9" cy="127.2" r="2.0"/><circle cx="286.6" cy="127.7" r="2.0"/><circle cx="288.0" cy="127.2" r="2.0"/><circle cx="289.7" cy="126.9" r="2.0"/><circle cx="291.2" cy="127.1" r="2.0"/><circle cx="292.8" cy="126.9" r="2.0"/><circle cx="294.4" cy="126.0" r="2.0"/><circle cx="296.3" cy="126.3" r="2.0"/><circle cx="297.3" cy="125.2" r="2.0"/><circle cx="298.8" cy="124.2" r="2.0"/><circle cx="300.2" cy="123.9" r="2.0"/><circle cx="301.2" cy="123.1" r="2.0"/><circle cx="302.9" cy="122.5" r="2.0"/><circle cx="304.0" cy="122.0" r="2.0"/><circle cx="305.4" cy="121.4" r="2.0"/><circle cx="306.7" cy="120.4" r="2.0"/><circle cx="308.6" cy="120.9" r="2.0"/><circle cx="310.2" cy="119.9" r="2.0"/><circle cx="311.7" cy="120.5" r="2.0"/><circle cx="313.5" cy="119.9" r="2.0"/><circle cx="315.1" cy="119.9" r="2.0"/><circle cx="316.6" cy="119.2" r="2.0"/><circle cx="318.0" cy="119.2" r="2.0"/><circle cx="319.1" cy="118.6" r="2.0"/><circle cx="320.3" cy="118.3" r="2.0"/></g></g><rect x="116.7" y="22.7" width="207.3" height="121.89999999999999" fill="none" stroke="#000" stroke-width="1.2"/><path d="M112.7,144.5H116.7M108.7,137.3H116.7M112.7,130.1H116.7M112.7,123.0H116.7M112.7,115.8H116.7M112.7,108.6H116.7M108.7,101.5H116.7M112.7,94.3H116.7M112.7,87.1H116.7M112.7,80.0H116.7M112.7,72.8H116.7M108.7,65.6H116.7M112.7,58.5H116.7M112.7,51.3H116.7M112.7,44.1H116.7M112.7,37.0H116.7M108.7,29.8H116.7M112.7,22.6H116.7M119.1,144.6V148.6M130.4,144.6V152.6M141.8,144.6V148.6M153.1,144.6V152.6M164.4,144.6V148.6M175.7,144.6V152.6M187.1,144.6V148.6M198.4,144.6V152.6M209.7,144.6V148.6M221.1,144.6V152.6M232.4,144.6V148.6M243.7,144.6V152.6M255.1,144.6V148.6M266.4,144.6V152.6M277.7,144.6V148.6M289.0,144.6V152.6M300.4,144.6V148.6M311.7,144.6V152.6M323.0,144.6V148.6" stroke="#000" stroke-width="1.1" fill="none"/><text transform="translate(105.4,35.6) scale(1.13,1)" text-anchor="end" font-family="Liberation Serif" font-size="16.8">190</text><text transform="translate(105.4,71.4) scale(1.13,1)" text-anchor="end" font-family="Liberation Serif" font-size="16.8">180</text><text transform="translate(105.4,107.3) scale(1.13,1)" text-anchor="end" font-family="Liberation Serif" font-size="16.8">170</text><text transform="translate(105.4,143.1) scale(1.13,1)" text-anchor="end" font-family="Liberation Serif" font-size="16.8">160</text><text transform="translate(137.7,194.8) rotate(-90)" font-family="Liberation Serif" font-size="15.5" textLength="38.2" lengthAdjust="spacingAndGlyphs">1994</text><text transform="translate(160.4,194.8) rotate(-90)" font-family="Liberation Serif" font-size="15.5" textLength="38.2" lengthAdjust="spacingAndGlyphs">1996</text><text transform="translate(183.0,194.8) rotate(-90)" font-family="Liberation Serif" font-size="15.5" textLength="38.2" lengthAdjust="spacingAndGlyphs">1998</text><text transform="translate(205.7,194.8) rotate(-90)" font-family="Liberation Serif" font-size="15.5" textLength="38.2" lengthAdjust="spacingAndGlyphs">2000</text><text transform="translate(228.4,194.8) rotate(-90)" font-family="Liberation Serif" font-size="15.5" textLength="38.2" lengthAdjust="spacingAndGlyphs">2002</text><text transform="translate(251.0,194.8) rotate(-90)" font-family="Liberation Serif" font-size="15.5" textLength="38.2" lengthAdjust="spacingAndGlyphs">2004</text><text transform="translate(273.7,194.8) rotate(-90)" font-family="Liberation Serif" font-size="15.5" textLength="38.2" lengthAdjust="spacingAndGlyphs">2006</text><text transform="translate(296.3,194.8) rotate(-90)" font-family="Liberation Serif" font-size="15.5" textLength="38.2" lengthAdjust="spacingAndGlyphs">2008</text><text transform="translate(319.0,194.8) rotate(-90)" font-family="Liberation Serif" font-size="15.5" textLength="38.2" lengthAdjust="spacingAndGlyphs">2010</text><text transform="translate(120.9,59.4) scale(1.1,1)" font-family="Liberation Serif" font-weight="bold" font-size="26" stroke="#000" stroke-width="0.6">b</text></svg>
</body></html>
